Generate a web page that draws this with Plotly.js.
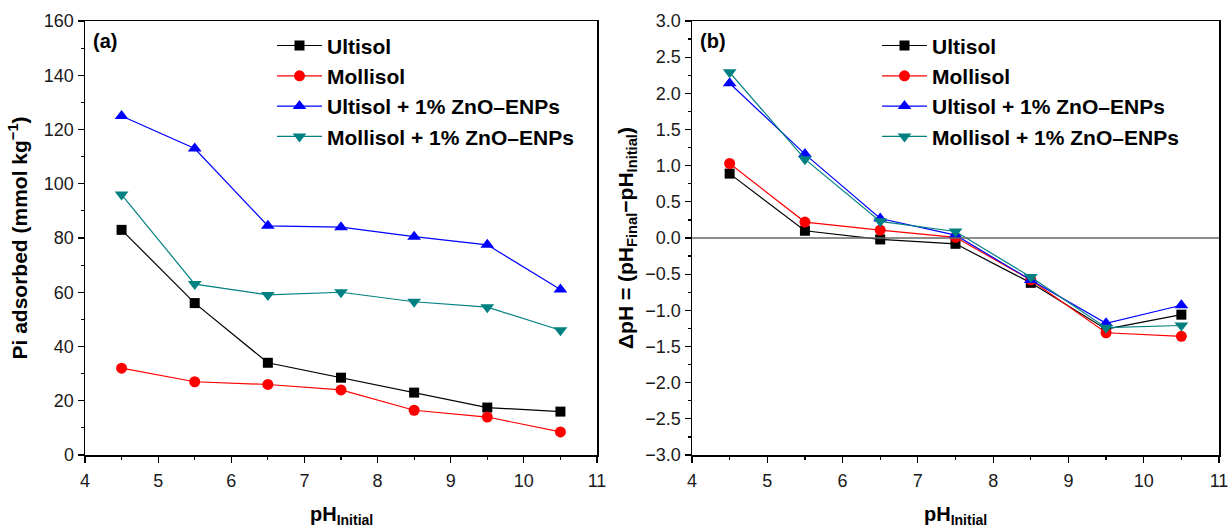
<!DOCTYPE html>
<html><head><meta charset="utf-8">
<script src="https://cdn.plot.ly/plotly-3.0.1.min.js"></script>
<style>body{margin:0;background:#fff}#c{width:1230px;height:529px}</style>
</head><body><div id="c"></div>
<script>
const pH = [4.5, 5.5, 6.5, 7.5, 8.5, 9.5, 10.5];
const seriesNames = ['Ultisol', 'Mollisol', 'Ultisol + 1% ZnO\u2013ENPs', 'Mollisol + 1% ZnO\u2013ENPs'];
// Panel (a): Pi adsorbed (mmol kg-1)
const piUltisol = [83, 56, 34, 28.5, 23, 17.5, 16];
const piMollisol = [32, 27, 26, 24, 16.5, 14, 8.5];
const piUltisolZnO = [125, 113, 84.5, 84, 80.5, 77.5, 61];
const piMollisolZnO = [96, 63, 59, 60, 56.5, 54.5, 46];
// Panel (b): delta pH
const dUltisol = [0.89, 0.10, -0.02, -0.08, -0.62, -1.26, -1.06];
const dMollisol = [1.03, 0.22, 0.11, 0.01, -0.58, -1.31, -1.36];
const dUltisolZnO = [2.14, 1.16, 0.27, 0.04, -0.58, -1.18, -0.93];
const dMollisolZnO = [2.29, 1.09, 0.23, 0.09, -0.54, -1.24, -1.21];

const colors = ['#000000', '#ff0000', '#0000ff', '#008080'];
const symbols = ['square', 'circle', 'triangle-up', 'triangle-down'];
const sizes = [10, 11, 12, 12];
const aData = [piUltisol, piMollisol, piUltisolZnO, piMollisolZnO];
const bData = [dUltisol, dMollisol, dUltisolZnO, dMollisolZnO];

const traces = [];
aData.forEach((y, i) => traces.push({
  x: pH, y: y, name: seriesNames[i], type: 'scatter', mode: 'lines+markers',
  xaxis: 'x', yaxis: 'y', legend: 'legend',
  line: {color: colors[i], width: 1.2},
  marker: {color: colors[i], symbol: symbols[i], size: sizes[i]}
}));
bData.forEach((y, i) => traces.push({
  x: pH, y: y, name: seriesNames[i], type: 'scatter', mode: 'lines+markers',
  xaxis: 'x2', yaxis: 'y2', legend: 'legend2',
  line: {color: colors[i], width: 1.2},
  marker: {color: colors[i], symbol: symbols[i], size: sizes[i]}
}));

const FAM = 'Arial, "Liberation Sans", sans-serif';
const tickFont = {family: FAM, size: 18, color: '#1a1a1a'};
const xTitleFont = {family: FAM, size: 20, color: '#000', weight: 'bold'};
const yTitleFont = {family: FAM, size: 21, color: '#000', weight: 'bold'};
const axBase = {
  showgrid: false, zeroline: false, showline: true, linecolor: '#000', linewidth: 1.5,
  mirror: true, ticks: 'outside', ticklen: 6, tickwidth: 1.2, tickcolor: '#000',
  tickfont: tickFont, automargin: false
};
const minorT = (d) => ({ticks: 'outside', ticklen: 3, tickwidth: 1.2, tickcolor: '#000', dtick: d});
const legBase = {
  font: {family: FAM, size: 21, color: '#000', weight: 'bold'},
  bgcolor: 'rgba(0,0,0,0)', borderwidth: 0, xanchor: 'left', yanchor: 'top', itemwidth: 45
};
const xTitleY = -0.14;

const layout = {
  width: 1230, height: 529, paper_bgcolor: '#fff', plot_bgcolor: '#fff',
  margin: {l: 0, r: 0, t: 21, b: 74},
  showlegend: true,
  xaxis: Object.assign({}, axBase, {
    domain: [85/1230, 597/1230], anchor: 'y', range: [4, 11], dtick: 1, minor: minorT(0.5),
    ticklabelstandoff: 3
  }),
  yaxis: Object.assign({}, axBase, {
    domain: [0, 1], anchor: 'x', range: [0, 160], dtick: 20, minor: minorT(10),
    title: {text: 'Pi adsorbed (mmol kg<sup>\u22121</sup>)', font: yTitleFont, standoff: 10}
  }),
  xaxis2: Object.assign({}, axBase, {
    domain: [692/1230, 1219/1230], anchor: 'y2', range: [4, 11], dtick: 1, minor: minorT(0.5),
    ticklabelstandoff: 3
  }),
  yaxis2: Object.assign({}, axBase, {
    domain: [0, 1], anchor: 'x2', range: [-3, 3], dtick: 0.5, tickformat: '.1f',
    minor: minorT(0.25),
    title: {text: '\u0394pH = (pH<sub>Final</sub>\u2212pH<sub>Initial</sub>)', font: yTitleFont, standoff: 6}
  }),
  legend: Object.assign({}, legBase, {x: 272/1230, y: 0.99}),
  legend2: Object.assign({}, legBase, {x: 877/1230, y: 0.99}),
  shapes: [{type: 'line', xref: 'x2 domain', yref: 'y2', x0: 0, x1: 1, y0: 0, y1: 0,
            line: {color: '#666', width: 1.5}}],
  annotations: [
    {text: '(a)', xref: 'x domain', yref: 'y domain', x: 0.012, y: 0.985, xanchor: 'left', yanchor: 'top',
     showarrow: false, font: xTitleFont},
    {text: '(b)', xref: 'x2 domain', yref: 'y2 domain', x: 0.012, y: 0.985, xanchor: 'left', yanchor: 'top',
     showarrow: false, font: xTitleFont},
    {text: 'pH<sub>Initial</sub>', xref: 'x domain', yref: 'paper', x: 0.5, y: xTitleY, xanchor: 'center', yanchor: 'middle',
     showarrow: false, font: xTitleFont},
    {text: 'pH<sub>Initial</sub>', xref: 'x2 domain', yref: 'paper', x: 0.5, y: xTitleY, xanchor: 'center', yanchor: 'middle',
     showarrow: false, font: xTitleFont}
  ]
};
Plotly.newPlot('c', traces, layout, {displayModeBar: false, staticPlot: true});
</script></body></html>
